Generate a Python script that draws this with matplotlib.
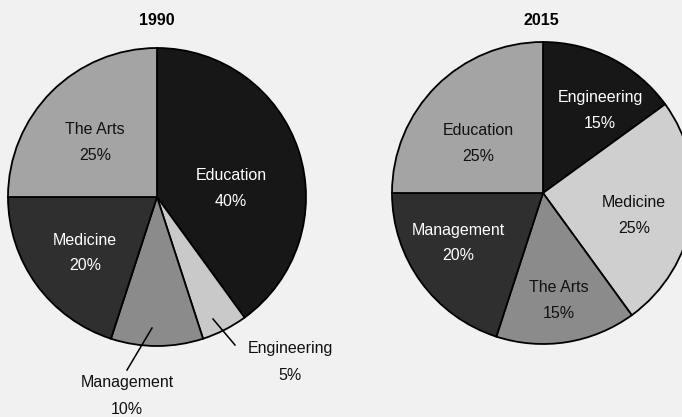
import matplotlib
matplotlib.use("Agg")
import matplotlib.pyplot as plt

plt.rcParams['font.family'] = ['Liberation Sans', 'DejaVu Sans']

# Data
titles = ["1990", "2015"]
cats_1990 = ["Education", "Engineering", "Management", "Medicine", "The Arts"]
vals_1990 = [40, 5, 10, 20, 25]
cats_2015 = ["Engineering", "Medicine", "The Arts", "Management", "Education"]
vals_2015 = [15, 25, 15, 20, 25]

shade = {
    "Education_1990": "#171717",
    "Engineering_1990": "#c9c9c9",
    "Management_1990": "#8b8b8b",
    "Medicine_1990": "#2f2f2f",
    "The Arts_1990": "#a4a4a4",
    "Engineering_2015": "#171717",
    "Medicine_2015": "#cfcfcf",
    "The Arts_2015": "#8b8b8b",
    "Management_2015": "#2f2f2f",
    "Education_2015": "#a4a4a4",
}
dark = {"#171717", "#2f2f2f"}

W, H = 682, 417
fig = plt.figure(figsize=(W / 100, H / 100), dpi=100)
fig.patch.set_facecolor("#f1f1f1")
ax = fig.add_axes([0, 0, 1, 1])
ax.set_facecolor("#f1f1f1")

def py(y):
    return H - y

pies = [
    (cats_1990, vals_1990, "1990", (157, py(197)), 149),
    (cats_2015, vals_2015, "2015", (543, py(193)), 151),
]
for cats, vals, yr, c, r in pies:
    cols = [shade[f"{k}_{yr}"] for k in cats]
    ax.pie(vals, colors=cols, startangle=90, counterclock=False,
           center=c, radius=r,
           wedgeprops=dict(edgecolor="black", linewidth=1.3))

fs = 11.5
# Titles
ax.text(157, py(20), titles[0], ha="center", va="center", fontsize=fs, fontweight="bold")
ax.text(541, py(20), titles[1], ha="center", va="center", fontsize=fs, fontweight="bold")

# Label positions (pixel coords) for each slice
lab_1990 = {
    "The Arts": (95, 129),
    "Education": (231, 175),
    "Medicine": (85, 240),
    "Engineering": (290, 349),
    "Management": (127, 383),
}
lab_2015 = {
    "Engineering": (600, 97),
    "Education": (478, 130),
    "Medicine": (634, 202),
    "Management": (458, 230),
    "The Arts": (559, 288),
}
outside = {"Engineering_1990", "Management_1990"}
for cats, vals, yr, labs in [(cats_1990, vals_1990, "1990", lab_1990),
                              (cats_2015, vals_2015, "2015", lab_2015)]:
    for k, v in zip(cats, vals):
        x, y = labs[k]
        key = f"{k}_{yr}"
        col = "white" if (shade[key] in dark and key not in outside) else "#111111"
        ax.text(x, py(y), k, ha="center", va="center", fontsize=fs, color=col)
        ax.text(x, py(y + 26), f"{v}%", ha="center", va="center", fontsize=fs, color=col)

# Leader lines
ax.plot([152, 127], [py(328), py(370)], color="black", lw=1.1)
ax.plot([213, 235], [py(319), py(345)], color="black", lw=1.1)

ax.set_xlim(0, W)
ax.set_ylim(0, H)
ax.set_aspect("equal")
ax.axis("off")
fig.savefig("out.png", dpi=100, facecolor=fig.get_facecolor())
